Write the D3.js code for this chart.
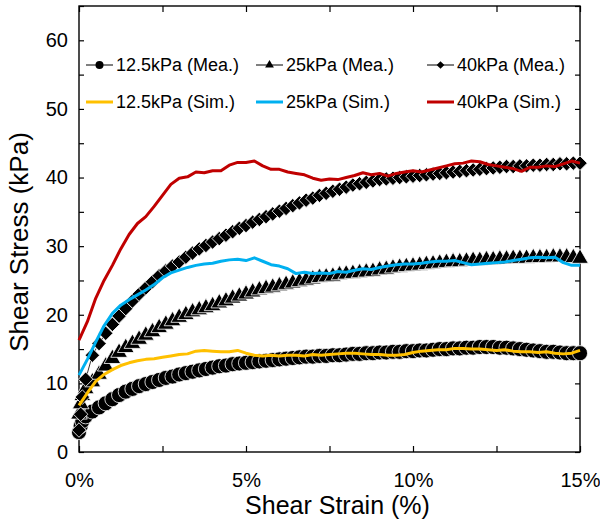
<!DOCTYPE html>
<html lang='en'>
<head>
	<meta charset='UTF-8'/>
	<title>Shear stress vs shear strain</title>
	<script src='https://cdnjs.cloudflare.com/ajax/libs/d3/7.8.5/d3.min.js'></script>
	<style>
		body {margin: 0; background: #fff;}
		svg {display: block; font-family: 'Liberation Sans', Arial, sans-serif;}
		.axis path {display: none;}
		.axis line {stroke: #000; stroke-width: 1.2;}
		.axis text {font-size: 20px; fill: #000; font-family: 'Liberation Sans', Arial, sans-serif;}
	</style>
</head>
<body>
	<div class='graph'></div>
	<script>
		// measured data (strain in %, stress in kPa)
		const strain = [0, 0.05, 0.1, 0.2, 0.4, 0.6, 0.8, 1, 1.2, 1.4, 1.6, 1.8, 2, 2.2, 2.4, 2.6, 2.8, 3, 3.2, 3.4, 3.6, 3.8,
			4, 4.2, 4.4, 4.6, 4.8, 5, 5.2, 5.4, 5.6, 5.8, 6, 6.2, 6.4, 6.6, 6.8, 7, 7.2, 7.4, 7.6, 7.8, 8, 8.2, 8.4, 8.6, 8.8,
			9, 9.2, 9.4, 9.6, 9.8, 10, 10.2, 10.4, 10.6, 10.8, 11, 11.2, 11.4, 11.6, 11.8, 12, 12.2, 12.4, 12.6, 12.8,
			13, 13.2, 13.4, 13.6, 13.8, 14, 14.2, 14.4, 14.6, 14.8, 15];
		const mea125 = [2.9, 3.8, 4.5, 5.2, 5.9, 6.5, 7.1, 7.7, 8.3, 8.8, 9.2, 9.6, 9.9, 10.2, 10.5, 10.8, 11.0, 11.3, 11.5, 11.7, 11.9, 12.1,
			12.3, 12.5, 12.6, 12.8, 12.9, 13.0, 13.1, 13.2, 13.3, 13.4, 13.5, 13.6, 13.7, 13.8, 13.9, 13.9, 14.0, 14.0, 14.1, 14.1, 14.2, 14.3, 14.3, 14.4, 14.4,
			14.5, 14.5, 14.6, 14.6, 14.7, 14.7, 14.8, 14.8, 14.9, 15.0, 15.0, 15.1, 15.1, 15.2, 15.2, 15.3, 15.3, 15.3, 15.2, 15.2,
			15.1, 15.0, 14.9, 14.8, 14.7, 14.6, 14.6, 14.5, 14.4, 14.4, 14.4];
		const mea25 = [5.5, 7, 8.2, 9.2, 10.2, 11.3, 12.5, 13.6, 14.5, 15.2, 15.8, 16.4, 17.0, 17.5, 18.1, 18.6, 19.1, 19.6, 20.0, 20.4, 20.7, 21.0,
			21.3, 21.7, 22.0, 22.4, 22.7, 23.0, 23.3, 23.6, 23.8, 24.0, 24.2, 24.4, 24.6, 24.8, 25.0, 25.2, 25.4, 25.5, 25.6, 25.8, 25.9, 26.0, 26.1, 26.2, 26.3,
			26.5, 26.6, 26.8, 26.9, 27.0, 27.1, 27.2, 27.3, 27.4, 27.5, 27.6, 27.7, 27.7, 27.8, 27.9, 27.9, 28.0, 28.0, 28.1, 28.1,
			28.2, 28.2, 28.2, 28.3, 28.3, 28.3, 28.4, 28.4, 28.4, 28.3, 28.2];
		const mea40 = [3.2, 5.5, 8, 10.6, 14.1, 15.8, 17.3, 18.6, 19.8, 20.9, 22.0, 23.0, 23.9, 24.8, 25.7, 26.4, 27.1, 27.7, 28.4, 29.0, 29.6, 30.1,
			30.6, 31.1, 31.6, 32.1, 32.6, 33.0, 33.5, 33.9, 34.3, 34.7, 35.1, 35.5, 35.9, 36.3, 36.7, 37.0, 37.4, 37.7, 38.0, 38.3, 38.6, 38.9, 39.1, 39.3, 39.5,
			39.7, 39.8, 39.9, 40.0, 40.1, 40.2, 40.3, 40.4, 40.5, 40.6, 40.7, 40.8, 40.9, 41.0, 41.1, 41.2, 41.3, 41.4, 41.5, 41.6,
			41.6, 41.7, 41.7, 41.8, 41.8, 41.9, 41.9, 42.0, 42.0, 42.1, 42.1];

		// simulated data
		const simStrain = [0, 0.25, 0.5, 0.75, 1, 1.25, 1.5, 1.75, 2, 2.25, 2.5, 2.75, 3, 3.25, 3.5, 3.75, 4, 4.25, 4.5, 4.75,
			5, 5.25, 5.5, 5.75, 6, 6.25, 6.5, 6.75, 7, 7.25, 7.5, 7.75, 8, 8.25, 8.5, 8.75, 9, 9.25, 9.5, 9.75,
			10, 10.25, 10.5, 10.75, 11, 11.25, 11.5, 11.75, 12, 12.25, 12.5, 12.75, 13, 13.25, 13.5, 13.75, 14, 14.25, 14.5, 14.75, 15];
		const sim125 = [6.8, 8.6, 10.3, 11.3, 12.0, 12.6, 13.0, 13.3, 13.5, 13.6, 13.8, 14.0, 14.2, 14.3, 14.7, 14.8, 14.7, 14.6, 14.6, 14.8,
			14.4, 14.1, 14.0, 14.1, 14.0, 14.1, 14.1, 14.0, 14.2, 14.1, 14.2, 14.3, 14.4, 14.4, 14.3, 14.2, 14.2, 14.1, 14.1, 14.2,
			14.5, 14.7, 14.8, 14.9, 14.9, 15.1, 15.1, 15.0, 15.0, 14.9, 14.8, 14.9, 14.7, 14.6, 14.6, 14.5, 14.6, 14.4, 14.3, 14.4, 14.8];
		const sim25 = [11.2, 13.5, 16.0, 18.4, 20.2, 21.4, 22.2, 22.9, 23.6, 24.4, 25.4, 26.1, 26.5, 26.9, 27.2, 27.4, 27.5, 27.8, 28.0, 28.1,
			27.9, 28.3, 27.8, 27.3, 27.1, 26.7, 26.0, 26.2, 26.0, 26.1, 26.0, 26.3, 26.2, 26.5, 26.7, 26.6, 26.9, 27.1, 27.3, 27.4,
			27.4, 27.5, 27.7, 27.8, 27.8, 27.9, 27.6, 27.3, 27.4, 27.5, 27.6, 27.7, 27.9, 28.1, 28.3, 28.4, 28.3, 28.4, 27.6, 27.2, 27.2];
		const sim40 = [16.3, 19.0, 22.4, 25.0, 27.2, 29.6, 31.7, 33.3, 34.3, 35.8, 37.4, 39.0, 39.9, 40.1, 40.8, 40.7, 41.0, 41.0, 41.8, 42.2,
			42.2, 42.4, 41.7, 41.2, 41.2, 40.8, 40.6, 40.4, 39.9, 39.6, 39.8, 39.7, 40.0, 40.3, 40.7, 40.4, 40.6, 40.2, 40.6, 40.8,
			41.0, 40.8, 41.1, 41.4, 41.7, 42.0, 42.1, 42.4, 42.3, 41.9, 41.7, 41.5, 41.3, 40.9, 41.5, 41.5, 41.7, 41.6, 42.0, 42.4, 42.1];

		const xTicks = [0, 2.5, 5, 7.5, 10, 12.5, 15];
		const yTicks = [0, 5, 10, 15, 20, 25, 30, 35, 40, 45, 50, 55, 60, 65];

		var width = 600;
		var height = 520;
		margin = ({top: 6, right: 20, bottom: 68, left: 79});

		var svg = d3.select('.graph')
			.append('svg')
			.attr('width', width)
			.attr('height', height);

		const X_SCALE = d3.scaleLinear().domain([0, 15]).range([margin.left, width - margin.right]);
		const Y_SCALE = d3.scaleLinear().domain([0, 65]).range([height - margin.bottom, margin.top]);

		// axes, ticks pointing inward
		svg.append('g')
			.attr('class', 'axis')
			.attr('transform', 'translate(0,' + (height - margin.bottom) + ')')
			.call(d3.axisBottom(X_SCALE).tickValues(xTicks).tickSizeInner(-6).tickSizeOuter(0)
				.tickFormat(d => d % 5 === 0 ? d + '%' : ''))
			.selectAll('text').attr('y', 21);
		svg.append('g')
			.attr('class', 'axis')
			.attr('transform', 'translate(0,' + margin.top + ')')
			.call(d3.axisTop(X_SCALE).tickValues(xTicks).tickSizeInner(-6).tickSizeOuter(0).tickFormat(''));
		svg.append('g')
			.attr('class', 'axis')
			.attr('transform', 'translate(' + margin.left + ',0)')
			.call(d3.axisLeft(Y_SCALE).tickValues(yTicks).tickSizeInner(-5).tickSizeOuter(0)
				.tickFormat(d => d % 10 === 0 ? d : ''))
			.selectAll('text').attr('x', -11);
		svg.append('g')
			.attr('class', 'axis')
			.attr('transform', 'translate(' + (width - margin.right) + ',0)')
			.call(d3.axisRight(Y_SCALE).tickValues(yTicks).tickSizeInner(-5).tickSizeOuter(0).tickFormat(''));

		svg.append('rect')
			.attr('x', margin.left)
			.attr('y', margin.top)
			.attr('width', width - margin.left - margin.right)
			.attr('height', height - margin.top - margin.bottom)
			.style('fill', 'none')
			.style('stroke', '#000')
			.style('stroke-width', 1.4);

		// axis titles
		svg.append('text')
			.text('Shear Strain (%)')
			.attr('x', (margin.left + width - margin.right) / 2 + 8)
			.attr('y', 514)
			.attr('text-anchor', 'middle')
			.style('font-size', '25px');
		svg.append('text')
			.text('Shear Stress (kPa)')
			.attr('transform', 'rotate(-90)')
			.attr('x', -242)
			.attr('y', 28)
			.attr('text-anchor', 'middle')
			.style('font-size', '26px');

		const symbols = {
			circle: d3.symbol().type(d3.symbolCircle),
			triangle: d3.symbol().type(d3.symbolTriangle),
			diamond: d3.symbol().type(d3.symbolSquare)
		};

		const measured = [
			{name: '12.5kPa (Mea.)', values: mea125, shape: 'circle', size: 180},
			{name: '25kPa (Mea.)', values: mea25, shape: 'triangle', size: 120},
			{name: '40kPa (Mea.)', values: mea40, shape: 'diamond', size: 105}
		];
		const simulated = [
			{name: '12.5kPa (Sim.)', values: sim125, color: '#FFC000'},
			{name: '25kPa (Sim.)', values: sim25, color: '#00B0F0'},
			{name: '40kPa (Sim.)', values: sim40, color: '#C00000'}
		];

		const line = d3.line()
			.x(d => X_SCALE(d[0]))
			.y(d => Y_SCALE(d[1]));

		function markerPath(shape, size) {
			return symbols[shape].size(size)();
		}
		function markerTransform(shape, x, y) {
			return 'translate(' + x + ',' + y + ')' + (shape === 'diamond' ? ' rotate(45)' : '');
		}

		measured.forEach(s => {
			let pts = strain.map((x, i) => [x, s.values[i]]);
			svg.append('path')
				.attr('d', line(pts))
				.style('fill', 'none')
				.style('stroke', '#000')
				.style('stroke-width', 0.8);
			svg.append('g')
				.selectAll('path')
				.data(pts)
				.enter()
				.append('path')
				.attr('d', markerPath(s.shape, s.size))
				.attr('transform', d => markerTransform(s.shape, X_SCALE(d[0]), Y_SCALE(d[1])))
				.style('fill', '#000')
				.style('stroke', '#fff')
				.style('stroke-width', 0.8);
		});

		simulated.forEach(s => {
			svg.append('path')
				.attr('d', line(simStrain.map((x, i) => [x, s.values[i]])))
				.style('fill', 'none')
				.style('stroke', s.color)
				.style('stroke-width', 3)
				.style('stroke-linejoin', 'round');
		});

		// Legend
		const legendX = [86, 256, 427];
		const legendY = [65, 102];
		measured.forEach((s, i) => {
			let lx = legendX[i], ly = legendY[0];
			svg.append('line')
				.attr('x1', lx).attr('x2', lx + 27)
				.attr('y1', ly).attr('y2', ly)
				.style('stroke', '#000').style('stroke-width', 1);
			svg.append('path')
				.attr('d', markerPath(s.shape, s.size * 0.28))
				.attr('transform', markerTransform(s.shape, lx + 13.5, ly))
				.style('fill', '#000');
			svg.append('text')
				.text(s.name)
				.attr('x', lx + 30)
				.attr('y', ly + 6)
				.style('font-size', '18px');
		});
		simulated.forEach((s, i) => {
			let lx = legendX[i], ly = legendY[1];
			svg.append('line')
				.attr('x1', lx).attr('x2', lx + 27)
				.attr('y1', ly).attr('y2', ly)
				.style('stroke', s.color).style('stroke-width', 3);
			svg.append('text')
				.text(s.name)
				.attr('x', lx + 30)
				.attr('y', ly + 6)
				.style('font-size', '18px');
		});
	</script>
</body>
</html>
